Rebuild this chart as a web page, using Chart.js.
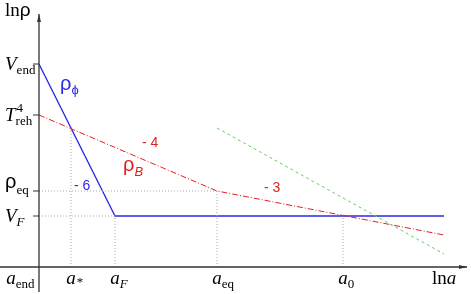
<!DOCTYPE html>
<html>
<head>
<meta charset="utf-8">
<script src="https://cdn.jsdelivr.net/npm/chart.js@4"></script>
<style>
  html, body { margin: 0; padding: 0; background: #fff; }
  #wrap { width: 471px; height: 294px; }
</style>
</head>
<body>
<div id="wrap"><canvas id="rho"></canvas></div>
<script>
// schematic units: x = ln a, y = ln rho
const xTickVals = [0, 32, 76, 178, 304];
const xTickNames = [["a", "end"], ["a", "*"], ["a", "F"], ["a", "eq"], ["a", "0"]];
const yTickVals = [203, 152, 76, 51];
const yTickNames = [["V", "end"], ["T", "reh", "4"], ["ρ", "eq"], ["V", "F"]];

const blueX = [0, 76, 405];
const blueY = [203, 51, 51];
const redX = [0, 178, 405];
const redY = [152, 76, 32];
const greenX = [178, 405];
const greenY = [139, 13];

// dotted guide lines
const guides = [
  [[32, 0], [32, 138.5]],
  [[76, 0], [76, 51]],
  [[178, 0], [178, 76]],
  [[304, 0], [304, 51]],
  [[0, 76], [178, 76]],
  [[0, 51], [76, 51]]
];

const pts = (xs, ys) => xs.map((x, i) => ({ x: x, y: ys[i] }));

const datasets = guides.map(g => ({
  data: g.map(p => ({ x: p[0], y: p[1] })),
  borderColor: "#aaaaaa",
  borderWidth: 1,
  borderDash: [1, 2],
  pointRadius: 0,
  showLine: true
}));
datasets.push({
  data: pts(greenX, greenY), borderColor: "#66cc66", borderWidth: 1,
  borderDash: [3, 3], pointRadius: 0, showLine: true
});
datasets.push({
  data: pts(redX, redY), borderColor: "#e02020", borderWidth: 1,
  borderDash: [6, 2, 1, 2], pointRadius: 0, showLine: true
});
datasets.push({
  data: pts(blueX, blueY), borderColor: "#2a2ae8", borderWidth: 1.3,
  pointRadius: 0, showLine: true
});

const SERIF = '"Liberation Serif", "DejaVu Serif", serif';
const SANS = '"Liberation Sans", Arial, sans-serif';

// draw main + subscript (+ optional superscript)
function sym(ctx, x, y, main, sub, sup, o) {
  o = o || {};
  const mf = o.mainFont || ("italic 19px " + SERIF);
  const sf = o.subFont || ("13px " + SERIF);
  ctx.font = mf;
  const mw = ctx.measureText(main).width;
  let x0 = o.center ? x - mw / 2 : x;
  ctx.fillText(main, x0, y);
  let xs = x0 + mw + (o.subGap || 0);
  if (sub) {
    ctx.font = sf;
    ctx.fillText(sub, xs, y + (o.subDy || 4));
  }
  if (sup) {
    ctx.font = "13px " + SERIF;
    ctx.fillText(sup, xs + 1, y - 9);
  }
}

const decor = {
  id: "decor",
  afterDatasetsDraw(chart) {
    const ctx = chart.ctx;
    const xs = chart.scales.x, ys = chart.scales.y;
    const x0 = xs.getPixelForValue(0), y0 = ys.getPixelForValue(0);
    const xEnd = xs.right, yTop = ys.top;
    ctx.save();
    ctx.strokeStyle = "#333";
    ctx.fillStyle = "#333";
    ctx.lineWidth = 1.3;
    ctx.beginPath();
    ctx.moveTo(0, y0); ctx.lineTo(xEnd, y0);
    ctx.moveTo(x0, chart.height - 2); ctx.lineTo(x0, yTop);
    ctx.stroke();
    // arrow heads
    ctx.beginPath();
    ctx.moveTo(xEnd, y0); ctx.lineTo(xEnd - 8, y0 - 2); ctx.lineTo(xEnd - 8, y0 + 2); ctx.closePath();
    ctx.moveTo(x0, yTop); ctx.lineTo(x0 - 2, yTop + 8); ctx.lineTo(x0 + 2, yTop + 8); ctx.closePath();
    ctx.fill();
    // y tick marks
    ctx.lineWidth = 1;
    yTickVals.forEach(v => {
      const p = ys.getPixelForValue(v);
      ctx.beginPath(); ctx.moveTo(x0 - 6, p); ctx.lineTo(x0, p); ctx.stroke();
    });

    ctx.fillStyle = "#000";
    ctx.textBaseline = "alphabetic";
    // x tick labels
    xTickVals.forEach((v, i) => {
      const n = xTickNames[i];
      const px = v === 0 ? x0 - 28 : xs.getPixelForValue(v);
      const sf = n[1] === "F" ? "italic 13px " + SERIF : "13px " + SERIF;
      sym(ctx, px, y0 + 17, n[0], n[1], null, { center: true, subFont: sf, subDy: n[1] === "*" ? 2 : 4, subGap: n[1] === "*" ? 1 : 0 });
    });
    // y tick labels
    yTickVals.forEach((v, i) => {
      const n = yTickNames[i];
      const p = ys.getPixelForValue(v);
      const isRho = n[0] === "ρ";
      const sf = n[1] === "F" ? "italic 13px " + SERIF : "13px " + SERIF;
      sym(ctx, 5, p + (isRho ? -3 : 6), n[0], n[1], n[2] || null,
        { mainFont: isRho ? "20px " + SANS : "italic 19px " + SERIF, subFont: sf, subDy: isRho ? 6 : 4 });
    });
    // axis titles
    ctx.font = "19px " + SERIF;
    ctx.fillText("ln", 5, 16);
    let lw = ctx.measureText("ln").width;
    ctx.font = "19px " + SANS;
    ctx.fillText("ρ", 5 + lw, 16);
    ctx.font = "19px " + SERIF;
    ctx.fillText("ln", 432, y0 + 17);
    lw = ctx.measureText("ln").width;
    ctx.font = "italic 19px " + SERIF;
    ctx.fillText("a", 432 + lw, y0 + 17);

    // curve annotations
    ctx.fillStyle = "#2a2ae8";
    sym(ctx, xs.getPixelForValue(21), ys.getPixelForValue(177), "ρ", "ϕ", null,
      { mainFont: "20px " + SANS, subFont: "13px " + SANS, subDy: 4 });
    ctx.font = "14px " + SANS;
    ctx.fillText("- 6", xs.getPixelForValue(35), ys.getPixelForValue(77));
    ctx.fillStyle = "#e02020";
    ctx.fillText("- 4", xs.getPixelForValue(103), ys.getPixelForValue(120));
    ctx.fillText("- 3", xs.getPixelForValue(225), ys.getPixelForValue(75));
    sym(ctx, xs.getPixelForValue(84), ys.getPixelForValue(96), "ρ", "B", null,
      { mainFont: "20px " + SANS, subFont: "italic 13px " + SANS, subDy: 5 });
    ctx.restore();
  }
};

new Chart(document.getElementById("rho"), {
  type: "scatter",
  data: { datasets: datasets },
  options: {
    responsive: true,
    maintainAspectRatio: false,
    animation: false,
    layout: { padding: { left: 39, right: 4, top: 14, bottom: 27 } },
    plugins: { legend: { display: false }, tooltip: { enabled: false } },
    scales: {
      x: { type: "linear", min: 0, max: 428, display: false },
      y: { type: "linear", min: 0, max: 253, display: false }
    }
  },
  plugins: [decor]
});
</script>
</body>
</html>
